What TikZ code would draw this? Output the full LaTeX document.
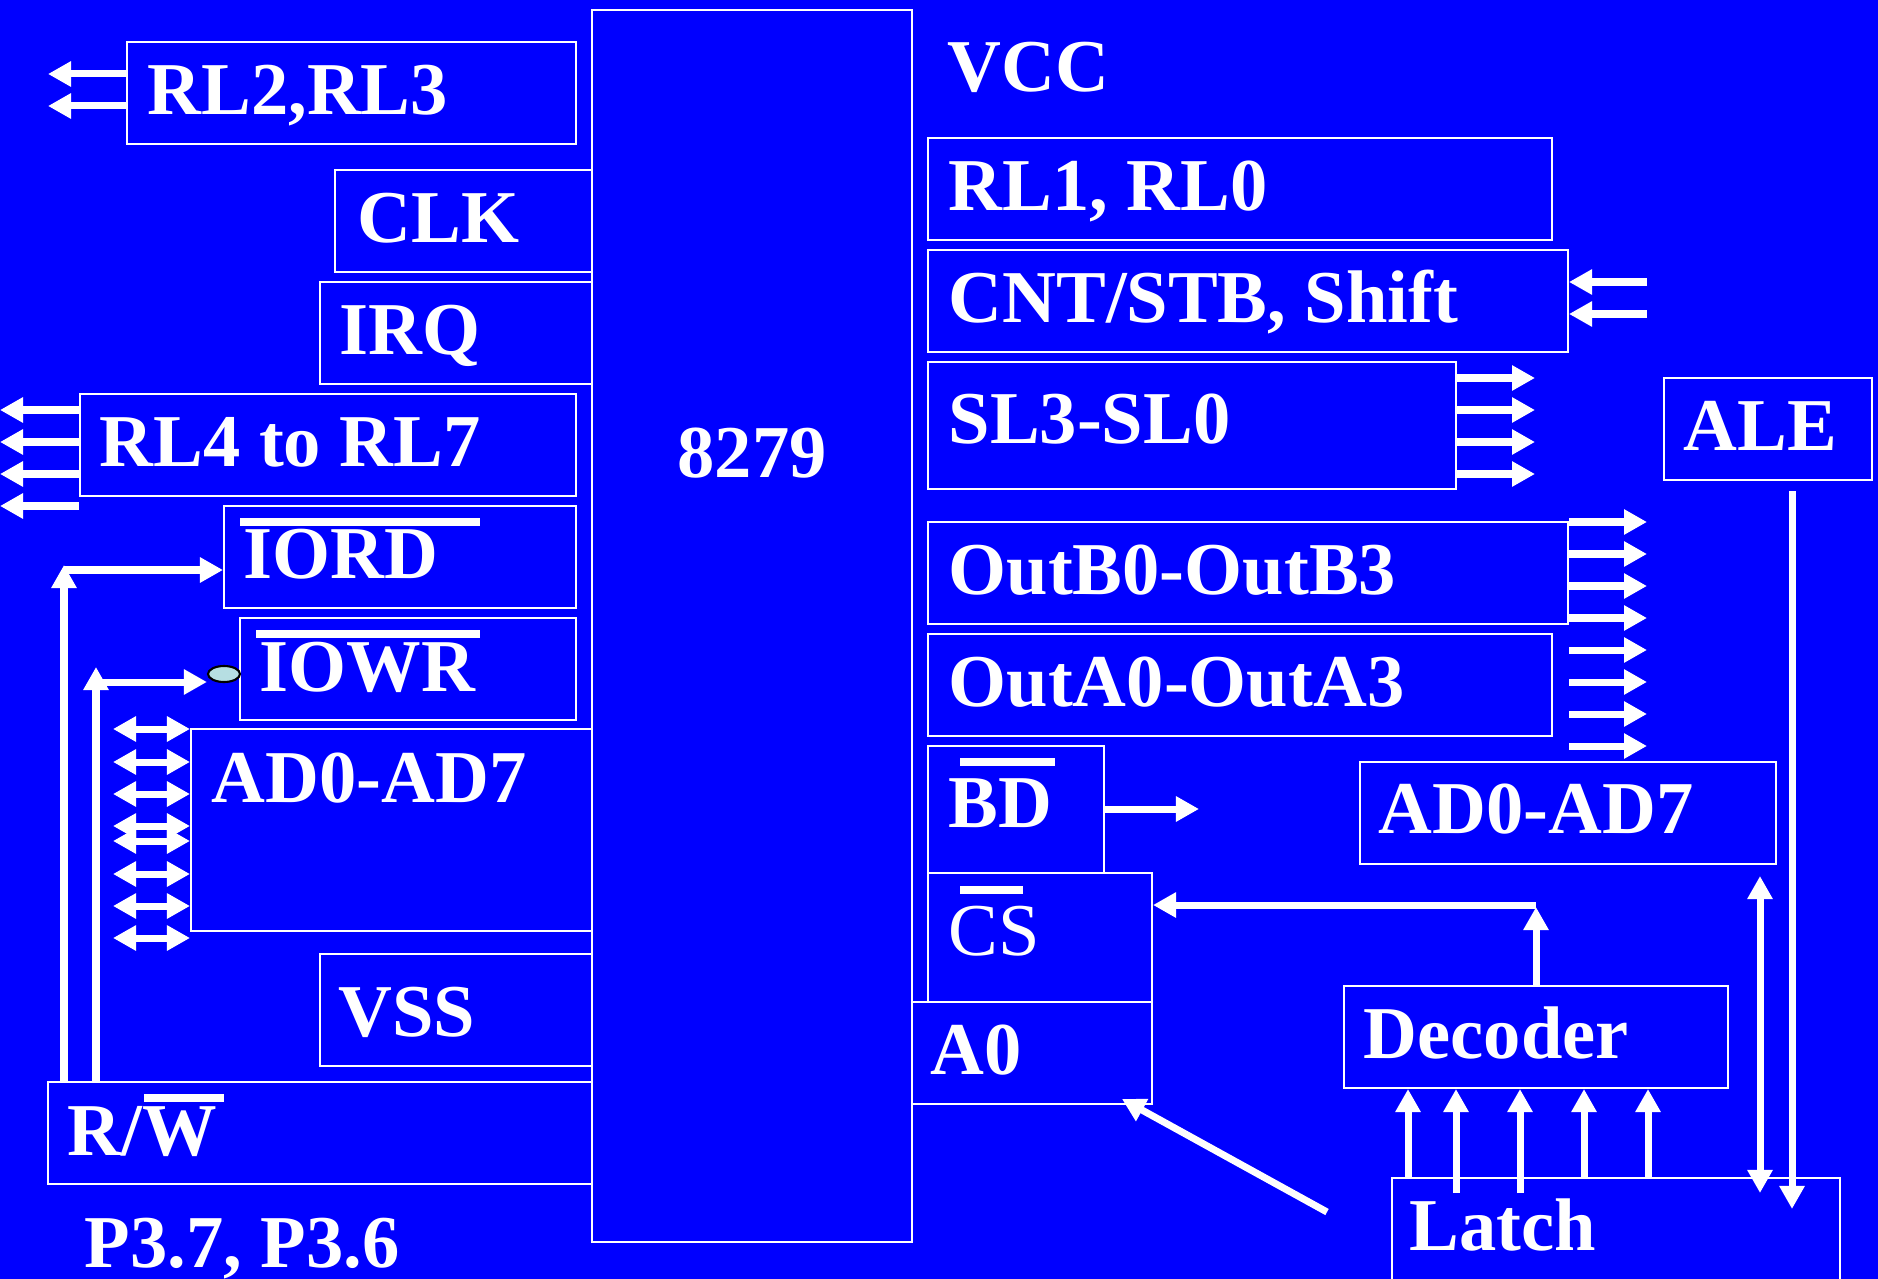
\documentclass[tikz,border=0pt]{standalone}
\usepackage{fontspec}
\setmainfont{Liberation Serif}
\usetikzlibrary{arrows.meta,fit,shapes.geometric}

\definecolor{slideblue}{RGB}{0,0,255}
\definecolor{bubblefill}{RGB}{182,222,226}

\tikzset{
    box/.style={draw=white, line width=0.02cm, inner sep=0pt},
    lbl/.style={text=white, inner sep=0pt, anchor=base west,
        font=\fontsize{21.2pt}{26pt}\selectfont\bfseries},
    sig/.style={draw=white, line width=0.07cm,
        -{Triangle[length=0.23cm,width=0.24cm]}},
    dsig/.style={sig,
        {Triangle[length=0.23cm,width=0.24cm]}-{Triangle[length=0.23cm,width=0.24cm]}},
    bar/.style={draw=white, line width=0.08cm},
}

\begin{document}
\begin{tikzpicture}[x=0.01cm, y=-0.01cm]
            \useasboundingbox (0,0) rectangle (1878,1279);
            \fill[slideblue] (0,0) rectangle (1878,1279);

            % boxes: name/left/top/right/bottom
            \foreach \n/\xa/\ya/\xb/\yb in {%
                chip/592/10/912/1242,
                rl23/127/42/576/144,
                clk/335/170/592/272,
                irq/320/282/592/384,
                rl47/80/394/576/496,
                iord/224/506/576/608,
                iowr/240/618/576/720,
                adl/191/729/592/931,
                vss/320/954/592/1066,
                rw/48/1082/592/1184,
                rl10/928/138/1552/240,
                cnt/928/250/1568/352,
                sl/928/362/1456/489,
                ale/1664/378/1872/480,
                outb/928/522/1568/624,
                outa/928/634/1552/736,
                bd/928/746/1104/873,
                adr/1360/762/1776/864,
                cs/928/873/1152/1002,
                a0/912/1002/1152/1104,
                dec/1344/986/1728/1088,
                latch/1392/1178/1840/1320%
                }{
                \node[box, fit={(\xa,\ya) (\xb,\yb)}] (\n) {};
            }

            \node[lbl] (tvcc) at (947,92) {VCC};
            \node[lbl] (tchip) at (677,477) {8279};
            \node[lbl] (trl23) at (147,115) {RL2,RL3};
            \node[lbl] (tclk) at (357,243) {CLK};
            \node[lbl] (tirq) at (339,354) {IRQ};
            \node[lbl] (trl47) at (99,466) {RL4 to RL7};
            \node[lbl] (tiord) at (243,578) {IORD};
            \node[lbl] (tiowr) at (259,691) {IOWR};
            \node[lbl] (tadl) at (211,802) {AD0-AD7};
            \node[lbl] (tvss) at (338,1036) {VSS};
            \node[lbl] (trw) at (67,1155) {R/W};
            \node[lbl] (tport) at (84,1267) {P3.7, P3.6};
            \node[lbl] (trl10) at (948,211) {RL1, RL0};
            \node[lbl] (tcnt) at (948,323) {CNT/STB, Shift};
            \node[lbl] (tsl) at (948,443) {SL3-SL0};
            \node[lbl] (tale) at (1683,450) {ALE};
            \node[lbl] (toutb) at (948,594) {OutB0-OutB3};
            \node[lbl] (touta) at (948,706) {OutA0-OutA3};
            \node[lbl] (tbd) at (948,827) {BD};
            \node[lbl] (tadr) at (1378,833) {AD0-AD7};
            \node[lbl, font=\fontsize{21.2pt}{26pt}\selectfont] (tcs) at (948,955) {CS};
            \node[lbl] (ta0) at (930,1074) {A0};
            \node[lbl] (tdec) at (1363,1058) {Decoder};
            \node[lbl] (tlatch) at (1409,1250) {Latch};

            % active-low bars
            \draw[bar] (240,522) -- (480,522);
            \draw[bar] (256,634) -- (480,634);
            \draw[bar] (144,1098) -- (224,1098);
            \draw[bar] (960,762) -- (1055,762);
            \draw[bar] (960,890) -- (1023,890);

            \node[ellipse, draw=black, line width=0.6pt, fill=bubblefill,
                minimum width=0.32cm, minimum height=0.16cm, inner sep=0pt] (bubble) at (224,674) {};

            % left side
            \foreach \y in {74,106}
                \draw[sig] (rl23.west |- 0,\y) -- (48,\y);
            \foreach \y in {410,442,474,506}
                \draw[sig] (rl47.west |- 0,\y) -- (0,\y);
            \draw[sig] (rw.north -| 64,0) -- (64,565);
            \draw[sig] (64,570) -- (iord.west |- 0,570);
            \draw[sig] (rw.north -| 96,0) -- (96,667);
            \draw[sig] (96,682) -- (bubble.west |- 0,682);
            \foreach \y in {729,762,794,826,841,874,906,938}
                \draw[dsig] (113,\y) -- (adl.west |- 0,\y);

            % right side
            \foreach \y in {282,314}
                \draw[sig] (1647,\y) -- (cnt.east |- 0,\y);
            \foreach \y in {378,410,442,474}
                \draw[sig] (sl.east |- 0,\y) -- (1535,\y);
            \foreach \i in {0,...,7}{
                \pgfmathtruncatemacro{\y}{522+32*\i}
                \draw[sig] (outb.east |- 0,\y) -- (1647,\y);
            }
            \draw[sig] (bd.east |- 0,809) -- (1199,809);
            \draw[sig] (dec.north) -- (1536,907);
            \draw[sig] (1536,905) -- (cs.east |- 0,905);
            \foreach \x/\b in {1408/1178, 1456/1193, 1520/1193, 1584/1178, 1648/1178}
                \draw[sig] (\x,\b) -- (dec.south -| \x,0);
            \draw[sig] (1327,1212) -- ([shift={(-31,-6)}]a0.south east);
            \draw[dsig] (adr.south -| 1760,0) ++(0,11) -- (1760,1193);
            \draw[sig] (ale.south -| 1792,0) ++(0,10) -- (1792,1209);
        \end{tikzpicture}
\end{document}
